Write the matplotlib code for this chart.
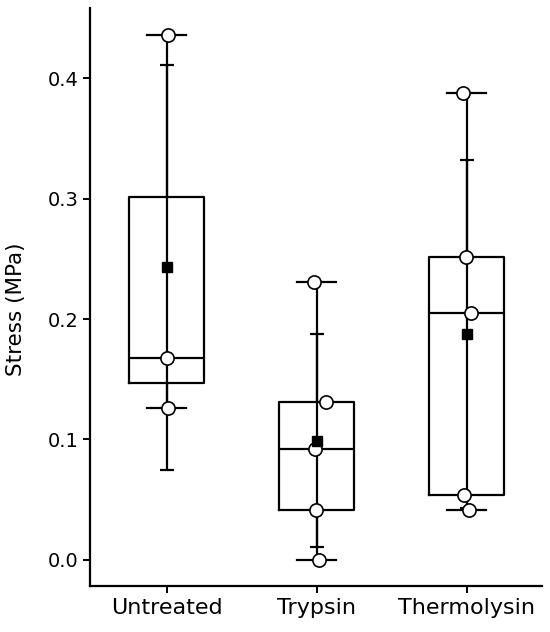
import numpy as np
import matplotlib
matplotlib.use("Agg")
import matplotlib.pyplot as plt

categories = ["Untreated", "Trypsin", "Thermolysin"]
untreated = [0.4357, 0.1676, 0.1259]
trypsin = [0.2304, 0.1314, 0.0920, 0.0415, 0.0000]
thermolysin = [0.3873, 0.2517, 0.2047, 0.0539, 0.0415]
yticks = [0.0, 0.1, 0.2, 0.3, 0.4]

groups = [untreated, trypsin, thermolysin]
# small horizontal jitter of the individual points (style)
jitter = [[0.005, 0.0, 0.007],
          [-0.02, 0.06, -0.01, -0.005, 0.015],
          [-0.025, -0.005, 0.03, -0.02, 0.015]]

fig = plt.figure(figsize=(5.5, 6.32), dpi=100)
ax = fig.add_axes([0.1636, 0.073, 0.8214, 0.914])

pos = np.arange(len(categories))
lw = 1.6
ax.boxplot(groups, positions=pos, widths=0.5, whis=(0, 100),
           showfliers=False, capwidths=0.26,
           boxprops=dict(color="black", linewidth=lw),
           whiskerprops=dict(color="black", linewidth=lw),
           capprops=dict(color="black", linewidth=lw),
           medianprops=dict(color="black", linewidth=lw),
           zorder=2)

means = [np.mean(g) for g in groups]
sds = [np.std(g, ddof=1) for g in groups]
ax.errorbar(pos, means, yerr=sds, fmt="none", ecolor="black",
            elinewidth=lw, capsize=5, capthick=lw, zorder=3)

for i, g in enumerate(groups):
    xs = pos[i] + np.array(jitter[i])
    ax.plot(xs, g, "o", mfc="white", mec="black", mew=1.2, ms=9.5,
            zorder=4, linestyle="none")

ax.plot(pos, means, "s", color="black", ms=7, zorder=5, linestyle="none")

ax.set_xlim(-0.513, 2.5)
ax.set_ylim(-0.0215, 0.458)
ax.set_xticks(pos)
ax.set_xticklabels(categories, fontsize=16)
ax.set_yticks(yticks)
ax.set_yticklabels([f"{t:.1f}" for t in yticks], fontsize=14)
ax.set_ylabel("Stress (MPa)", fontsize=15.5)
ax.yaxis.set_label_coords(-0.142, 0.479)
for s in ["top", "right"]:
    ax.spines[s].set_visible(False)
for s in ["left", "bottom"]:
    ax.spines[s].set_linewidth(1.6)
ax.tick_params(width=1.4, length=5)

fig.savefig("out.png", dpi=100)
